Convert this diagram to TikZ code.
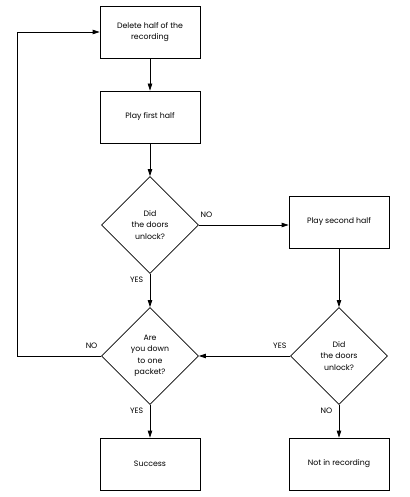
\documentclass[tikz,border=0pt]{standalone}
\usepackage{fontspec}
\setmainfont{Poppins}
\usepackage{tikz}
\usetikzlibrary{arrows.meta,shapes.geometric}
\tikzset{every node/.append style={font=\fontsize{7.8}{11.5}\selectfont}}

\begin{document}
\begin{tikzpicture}[>={Triangle[length=7pt,width=4.5pt]},x=1pt,y=-1pt,
  box/.style={draw,line width=.8pt,minimum width=100pt,minimum height=52pt,align=center,inner sep=2pt},
  decision/.style={draw,diamond,aspect=1,line width=.8pt,minimum width=97pt,minimum height=97pt,align=center,inner sep=0pt},
  flow/.style={->,line width=.8pt}]
  \useasboundingbox (0,0) rectangle (409,497);
  % boxes and decisions
  \node[box] (delete) at (150,32) {Delete half of the\\recording};
  \node[box] (playone) at (150,117) {Play first half};
  \node[decision] (doorsone) at (150,225) {Did\\the doors\\unlock?};
  \node[box] (playtwo) at (339,222) {Play second half};
  \node[decision] (packet) at (150,356) {Are\\you down\\to one\\packet?};
  \node[decision] (doorstwo) at (339,356) {Did\\the doors\\unlock?};
  \node[box] (success) at (150,464) {Success};
  \node[box] (notrec) at (339,464) {Not in recording};
  % connectors
  \draw[flow] (delete) -- (playone);
  \draw[flow] (playone) -- (doorsone);
  \draw[flow] (doorsone.east) -- (doorsone.east -| playtwo.west)
    node[pos=0,above right,xshift=-2pt,yshift=4pt] {NO};
  \draw[flow] (doorsone) -- (packet)
    node[pos=0,below left,xshift=-3pt,yshift=1pt] {YES};
  \draw[flow] (playtwo) -- (doorstwo);
  \draw[flow] (doorstwo) -- (packet)
    node[pos=0,above left,yshift=4pt] {YES};
  \draw[flow] (doorstwo) -- (notrec)
    node[pos=0,below left,xshift=-3pt,yshift=1pt] {NO};
  \draw[flow] (packet) -- (success)
    node[pos=0,below left,xshift=-3pt,yshift=1pt] {YES};
  \draw[flow] (packet.west) -- ++(-84,0)
    node[pos=0,above left,yshift=4pt] {NO} |- (delete.west);
\end{tikzpicture}
\end{document}
